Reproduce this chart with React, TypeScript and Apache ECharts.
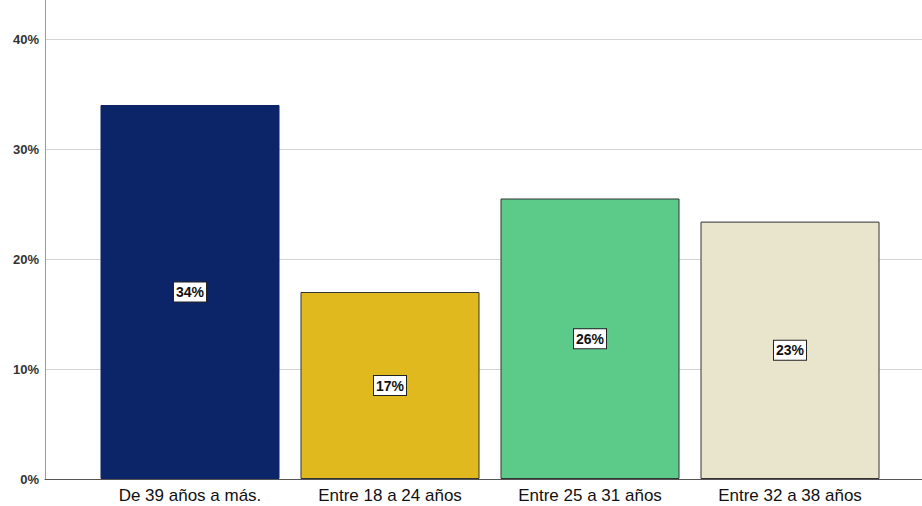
import React, { useEffect, useRef } from "react";
import * as echarts from "echarts";

const categories = ["De 39 años a más.", "Entre 18 a 24 años", "Entre 25 a 31 años", "Entre 32 a 38 años"];
const values = [34.0, 17.0, 25.5, 23.4];
const colors = ["#0c2468", "#e0b91e", "#5ccb8a", "#e9e4cc"];
const yTicks = [0, 10, 20, 30, 40];

export default function App() {
  const ref = useRef<HTMLDivElement>(null);
  useEffect(() => {
    const chart = echarts.init(ref.current!, undefined, { renderer: "svg" });
    const font = "'Liberation Sans', Arial, sans-serif";
    chart.setOption({
      animation: false,
      backgroundColor: "#ffffff",
      grid: [
        { left: 45, right: 0, top: 39, bottom: 27 },
        { left: 90, width: 800, top: 39, bottom: 27 },
      ],
      xAxis: [
        {
          type: "category",
          gridIndex: 0,
          data: categories,
          axisLine: { show: true, lineStyle: { color: "#555555", width: 1 } },
          axisTick: { show: false },
          axisLabel: { show: false },
        },
        {
          type: "category",
          gridIndex: 1,
          data: categories,
          axisLine: { show: false },
          axisTick: { show: false },
          axisLabel: { color: "#111111", fontSize: 17, fontFamily: font, margin: 8 },
        },
      ],
      yAxis: [
        {
          type: "value",
          gridIndex: 0,
          min: yTicks[0],
          max: yTicks[yTicks.length - 1],
          interval: 10,
          axisLine: { show: true, lineStyle: { color: "#9a9a9a", width: 1 } },
          axisTick: { show: false },
          axisLabel: {
            formatter: "{value}%",
            color: "#333333",
            fontWeight: "bold",
            fontSize: 13,
            fontFamily: font,
            margin: 6,
          },
          splitLine: { show: true, lineStyle: { color: "#d4d4d4", width: 1 } },
        },
        {
          type: "value",
          gridIndex: 1,
          min: yTicks[0],
          max: yTicks[yTicks.length - 1],
          interval: 10,
          show: false,
        },
      ],
      graphic: [
        {
          type: "line",
          shape: { x1: 45.5, y1: 0, x2: 45.5, y2: 39 },
          style: { stroke: "#9a9a9a", lineWidth: 1 },
        },
      ],
      series: [
        {
          type: "bar",
          xAxisIndex: 1,
          yAxisIndex: 1,
          barCategoryGap: "10.5%",
          data: values.map((v, i) => ({
            value: v,
            itemStyle: { color: colors[i], borderColor: i === 0 ? colors[0] : "#333333", borderWidth: 1 },
          })),
          label: {
            show: true,
            position: "inside",
            formatter: (p: any) => Math.round(p.value) + "%",
            color: "#111111",
            fontWeight: "bold",
            fontSize: 14,
            fontFamily: font,
            backgroundColor: "#ffffff",
            borderColor: "#222222",
            borderWidth: 1,
            padding: [3, 2, 2, 2],
          },
        },
      ],
    });
    return () => chart.dispose();
  }, []);
  return <div ref={ref} style={{ width: 922, height: 506, position: "fixed", left: 0, top: 0 }} />;
}
